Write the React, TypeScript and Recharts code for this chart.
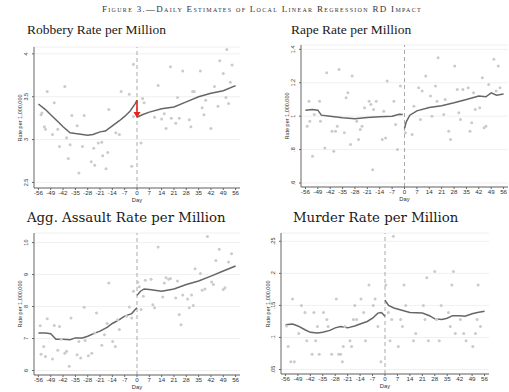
import { ComposedChart, Scatter, Line, XAxis, YAxis, CartesianGrid, ReferenceLine } from 'recharts';

const xTicks = [-56, -49, -42, -35, -28, -21, -14, -7, 0, 7, 14, 21, 28, 35, 42, 49, 56];

// [day, rate] pairs
const robberyDots: [number, number][] = [
  [-54.5, 3.29], [-54, 3.31], [-51, 3.56], [-52.6, 3.15], [-52, 3.12], [-47, 3.43], [-48, 3.06], [-45, 3.12],
  [-44, 2.92], [-41, 3.62], [-40, 3.02], [-39, 2.78], [-38, 2.94], [-37, 3.28], [-34, 3.16], [-33, 2.61],
  [-31, 2.92], [-30, 3.28], [-26, 2.74], [-24.6, 2.9], [-24, 2.7], [-22, 2.96], [-20, 2.97], [-19.5, 2.81],
  [-17.6, 2.66], [-16.6, 2.85], [-16, 3.35], [-12, 3.08], [-10, 3.06], [-9, 3.56], [-4.4, 3.53], [-3, 2.69],
  [-2, 3.88], [-2, 3.27], [2.3, 2.96], [3.2, 3.48], [4, 3.43], [10, 3.26], [12, 3.63], [14, 3.24],
  [15.5, 3.3], [16.5, 3.13], [19, 3.85], [19.5, 3.25], [22, 3.19], [23, 3.49], [24, 3.25], [26, 3.8],
  [29.7, 3.23], [30.6, 3.15], [31.6, 3.56], [32.5, 3.56], [36, 3.8], [37, 3.37], [38, 3.29], [39, 3.46],
  [42, 3.13], [44, 3.62], [46, 3.39], [47, 3.92], [49, 3.77], [50.5, 3.49], [51, 4.05], [52, 3.42],
  [53, 3.67], [54, 3.87],
];
const robberyPre: [number, number][] = [
  [-56, 3.415], [-52, 3.35], [-49, 3.29], [-45, 3.21], [-42, 3.15], [-38, 3.08], [-35, 3.07], [-31, 3.06],
  [-28, 3.05], [-25, 3.06], [-21, 3.09], [-18, 3.1], [-14, 3.16], [-10, 3.22], [-7, 3.27], [-4, 3.33],
  [-1, 3.42], [0, 3.46],
];
const robberyPost: [number, number][] = [
  [0, 3.26], [3, 3.29], [7, 3.32], [14, 3.36], [21, 3.38], [28, 3.44], [35, 3.5], [42, 3.54], [49, 3.57], [56, 3.63],
];
const robberyArrow: [number, number][] = [[0, 3.46], [0, 3.31]];

const rapeDots: [number, number][] = [
  [-55, 0.94], [-54, 1.09], [-53.5, 0.97], [-52, 0.76], [-51, 1.01], [-48, 1.09], [-47.5, 0.97], [-45, 0.81],
  [-44, 1.26], [-41, 0.91], [-40, 0.79], [-39, 0.91], [-38, 0.94], [-37, 1.28], [-34, 0.9], [-33, 1.11],
  [-32, 1.14], [-30.5, 0.83], [-29.6, 1.24], [-27, 0.97], [-26, 0.86], [-25, 0.92], [-24, 0.94], [-22.6, 1.05],
  [-20, 1.09], [-19, 1.07], [-18, 0.68], [-17.5, 1.04], [-16, 1.09], [-12.6, 0.86], [-11.7, 1.03], [-10.7, 0.87],
  [-9.8, 1.21], [-6, 1.09], [-5, 0.95], [-4, 0.8], [-2.3, 1.18], [0.6, 0.9], [4.3, 0.89], [5.3, 1.06],
  [8, 1.17], [9, 0.98], [10, 1.15], [12, 1.24], [14.7, 1.12], [15.5, 1.0], [17.5, 1.18], [18.4, 1.09],
  [19, 1.35], [22.2, 1.01], [23, 1.1], [25, 0.91], [26, 0.86], [28.4, 1.3], [29.8, 1.16], [30.7, 1.02],
  [31.6, 0.98], [33, 1.16], [36, 1.17], [37, 0.91], [38, 0.96], [39, 1.14], [40, 1.04], [42.5, 1.05],
  [44, 1.23], [45, 0.93], [46, 0.94], [47.6, 1.19], [50.5, 1.34], [51.8, 1.15], [53, 1.3], [54, 1.17],
];
const rapePre: [number, number][] = [
  [-56, 1.036], [-52, 1.04], [-49, 1.036], [-47, 1.006], [-42, 1.0], [-35, 0.99], [-28, 0.984], [-21, 0.992],
  [-14, 0.996], [-7, 1.0], [-3, 1.012], [-1, 1.01],
];
const rapePost: [number, number][] = [
  [0, 0.926], [1, 0.966], [3, 1.006], [7, 1.032], [14, 1.052], [21, 1.062], [28, 1.08], [35, 1.1], [42, 1.12],
  [46, 1.116], [49, 1.14], [52, 1.126], [56, 1.132],
];

const assaultDots: [number, number][] = [
  [-55, 7.4], [-54.5, 6.51], [-53, 6.75], [-52, 6.44], [-51, 7.62], [-48, 6.36], [-47, 7.41], [-45, 6.63],
  [-44, 7.38], [-43, 6.98], [-41, 6.54], [-40, 6.6], [-38.5, 6.13], [-37.5, 7.64], [-34, 6.49], [-33, 6.91],
  [-32, 6.39], [-30, 7.98], [-29.5, 6.94], [-27.6, 6.46], [-25.7, 6.54], [-24, 7.17], [-23, 7.8], [-20, 6.79],
  [-18.5, 7.12], [-17, 7.47], [-16, 8.74], [-13.8, 6.91], [-12.3, 6.75], [-11, 7.59], [-10, 7.28], [-6, 7.7],
  [-4.4, 7.99], [-3, 7.64], [-2, 8.48], [0.4, 8.76], [1.3, 8.62], [2.3, 7.91], [3.6, 8.32], [4.7, 8.82],
  [8, 8.85], [9, 8.06], [10, 7.96], [12, 9.86], [14.6, 8.3], [15.5, 8.74], [16.5, 8.9], [18, 8.85],
  [19, 8.88], [22, 8.27], [23, 8.8], [24, 7.75], [25, 7.43], [26, 8.36], [28.7, 8.24], [29.7, 7.96],
  [31, 8.36], [32, 8.03], [33, 9.18], [36, 9.03], [37, 8.51], [38.6, 8.55], [40, 10.19], [42.4, 8.77],
  [43.4, 8.69], [44.8, 9.44], [46.7, 9.79], [49, 8.53], [50, 8.59], [52, 9.39], [53.7, 9.65],
];
const assaultPre: [number, number][] = [
  [-56, 7.17], [-52, 7.17], [-49, 7.15], [-46, 6.98], [-42, 6.98], [-38, 6.96], [-35, 7.02], [-31, 7.02],
  [-28, 7.07], [-24, 7.17], [-21, 7.23], [-17, 7.35], [-14, 7.47], [-10, 7.59], [-7, 7.7], [-3, 7.78],
  [-1, 7.91], [0, 7.96],
];
const assaultPost: [number, number][] = [
  [0, 8.35], [2, 8.48], [4, 8.55], [7, 8.53], [14, 8.48], [21, 8.55], [28, 8.69], [35, 8.8], [42, 8.95],
  [49, 9.11], [56, 9.27],
];

const murderDots: [number, number][] = [
  [-55.4, 0.118], [-54.5, 0.086], [-53, 0.062], [-52, 0.16], [-51, 0.062], [-48.5, 0.106], [-47, 0.15],
  [-45, 0.139], [-44, 0.095], [-41, 0.074], [-40, 0.139], [-39, 0.095], [-38, 0.117], [-37, 0.074],
  [-34.6, 0.139], [-32.7, 0.128], [-32, 0.117], [-30, 0.074], [-27.4, 0.16], [-26, 0.074], [-25, 0.074],
  [-24, 0.062], [-23.5, 0.086], [-22.6, 0.117], [-19.7, 0.095], [-18.8, 0.086], [-17.8, 0.128], [-17, 0.15],
  [-16, 0.128], [-13.5, 0.16], [-12, 0.139], [-11, 0.095], [-9, 0.182], [-6.6, 0.15], [-5.6, 0.16],
  [-4, 0.117], [-2.3, 0.062], [0.5, 0.182], [1.9, 0.139], [2.8, 0.095], [3.8, 0.128], [4.7, 0.258],
  [7.5, 0.086], [8.8, 0.128], [9.8, 0.117], [10.7, 0.182], [11.7, 0.15], [16, 0.095], [17.3, 0.106],
  [21.6, 0.15], [22.5, 0.128], [23.5, 0.193], [24.4, 0.095], [28, 0.203], [29, 0.128], [30.5, 0.095],
  [31.6, 0.15], [35.7, 0.139], [36.7, 0.117], [37.6, 0.182], [38.5, 0.203], [39.5, 0.106], [42.4, 0.128],
  [44.3, 0.106], [45.6, 0.095], [49.4, 0.086], [50.9, 0.106], [51.8, 0.128], [52.4, 0.182], [53.7, 0.117],
];
const murderPre: [number, number][] = [
  [-56, 0.12], [-52, 0.121], [-49, 0.118], [-45, 0.112], [-42, 0.108], [-38, 0.107], [-35, 0.108], [-31, 0.111],
  [-28, 0.115], [-25, 0.117], [-21, 0.115], [-17, 0.118], [-14, 0.121], [-10, 0.125], [-7, 0.13], [-4, 0.138],
  [-2, 0.139], [0, 0.133],
];
const murderPost: [number, number][] = [
  [0, 0.158], [2, 0.15], [5, 0.146], [9, 0.143], [14, 0.139], [21, 0.138], [25, 0.134], [28, 0.129], [32, 0.128],
  [35, 0.13], [38, 0.134], [42, 0.134], [45, 0.133], [49, 0.137], [52, 0.139], [56, 0.141],
];

const rows = (pts: [number, number][]) => pts.map(([day, v]) => ({ day, v }));

const SANS = '"Liberation Sans", Arial, sans-serif';
const TIMES = '"Liberation Serif", "Times New Roman", serif';
const SCHOOLBOOK = '"DejaVu Serif", serif';

const Dot = (props: any) => <circle cx={props.cx} cy={props.cy} r={1.5} fill="#cbcbcb" />;

const ArrowHead = (props: any) =>
  props.index === 1 ? (
    <path key="head" d={`M${props.cx - 3.5},${props.cy - 1} L${props.cx + 3.5},${props.cy - 1} L${props.cx},${props.cy + 5} Z`} fill="#e5231b" />
  ) : (
    <g key={`n${props.index}`} />
  );

type PanelProps = {
  title: string;
  titleFont: string;
  titleSize: number;
  titleLeft: number;
  titleTop: number;
  left: number;
  top: number;
  width: number;
  height: number;
  margin: { top: number; right: number; bottom: number; left: number };
  yDomain: [number, number];
  yTicks: number[];
  yFmt: (v: number) => string;
  yLabelX: number;
  dots: [number, number][];
  pre: [number, number][];
  post: [number, number][];
  arrow?: [number, number][];
};

function Panel(p: PanelProps) {
  const YTick = (t: any) => {
    const x = t.x - 2.2;
    return (
      <text x={x} y={t.y} transform={`rotate(-90, ${x}, ${t.y})`} textAnchor="middle" fontSize={5.5} fill="#333" fontFamily={SANS}>
        {p.yFmt(t.payload.value)}
      </text>
    );
  };
  const plotTop = p.top + p.margin.top;
  const plotH = p.height - p.margin.top - p.margin.bottom - 13;
  return (
    <>
      <div style={{ position: 'absolute', left: p.titleLeft, top: p.titleTop, fontFamily: p.titleFont, fontSize: p.titleSize, lineHeight: 1, whiteSpace: 'nowrap', color: '#1a1a1a' }}>
        {p.title}
      </div>
      <div style={{ position: 'absolute', left: p.yLabelX, top: plotTop + plotH / 2, transform: 'translate(-50%, -50%) rotate(-90deg)', fontFamily: SANS, fontSize: 5.5, whiteSpace: 'nowrap', color: '#333' }}>
        Rate per 1,000,000
      </div>
      <div style={{ position: 'absolute', left: p.left, top: p.top }}>
        <ComposedChart width={p.width} height={p.height} margin={p.margin}>
          <CartesianGrid vertical={false} horizontal stroke="#ececec" strokeWidth={0.8} />
          <XAxis
            type="number"
            dataKey="day"
            domain={[-58.5, 58.5]}
            ticks={xTicks}
            interval={0}
            height={13}
            tickSize={2}
            tickMargin={0.5}
            stroke="#666"
            tick={{ fontSize: 6.2, fill: '#333', fontFamily: SANS }}
            label={{ value: 'Day', position: 'insideBottom', offset: -1, fontSize: 5.8, fill: '#333', fontFamily: SANS }}
          />
          <YAxis
            type="number"
            dataKey="v"
            domain={p.yDomain}
            ticks={p.yTicks}
            interval={0}
            allowDataOverflow
            width={26}
            tickSize={2}
            tickMargin={2}
            stroke="#666"
            tick={<YTick />}
          />
          <ReferenceLine x={0} stroke="#a0a0a0" strokeDasharray="4 3" strokeWidth={0.9} />
          <Scatter data={rows(p.dots)} dataKey="v" shape={<Dot />} isAnimationActive={false} />
          <Line data={rows(p.pre)} dataKey="v" type="linear" stroke="#666" strokeWidth={1.5} dot={false} isAnimationActive={false} />
          <Line data={rows(p.post)} dataKey="v" type="linear" stroke="#666" strokeWidth={1.5} dot={false} isAnimationActive={false} />
          {p.arrow && (
            <Line data={rows(p.arrow)} dataKey="v" type="linear" stroke="#e5231b" strokeWidth={1.6} dot={ArrowHead} isAnimationActive={false} />
          )}
        </ComposedChart>
      </div>
    </>
  );
}

const fmtDec = (v: number) => String(v).replace(/^0\./, '.');

export default function App() {
  return (
    <div style={{ position: 'absolute', left: 0, top: 0, width: 509, height: 392, background: '#fff', overflow: 'hidden' }}>
      <div style={{ position: 'absolute', left: 0, width: 524, top: 4, textAlign: 'center', fontFamily: TIMES, fontSize: 9, letterSpacing: 1.3, fontVariant: 'small-caps', color: '#333', whiteSpace: 'nowrap' }}>
        Figure 3.—Daily Estimates of Local Linear Regression RD Impact
      </div>
      <Panel
        title="Robbery Rate per Million"
        titleFont={TIMES}
        titleSize={13.5}
        titleLeft={27}
        titleTop={23}
        left={0}
        top={40}
        width={250}
        height={163}
        margin={{ top: 7, right: 10, bottom: 2, left: 8 }}
        yDomain={[2.435, 4.08]}
        yTicks={[2.5, 3, 3.5, 4]}
        yFmt={(v) => String(v)}
        yLabelX={20}
        dots={robberyDots}
        pre={robberyPre}
        post={robberyPost}
        arrow={robberyArrow}
      />
      <Panel
        title="Rape Rate per Million"
        titleFont={TIMES}
        titleSize={13.5}
        titleLeft={291}
        titleTop={23}
        left={262}
        top={40}
        width={247}
        height={162}
        margin={{ top: 5, right: 1, bottom: 2, left: 13 }}
        yDomain={[0.576, 1.426]}
        yTicks={[0.6, 0.8, 1, 1.2, 1.4]}
        yFmt={fmtDec}
        yLabelX={287}
        dots={rapeDots}
        pre={rapePre}
        post={rapePost}
      />
      <Panel
        title="Agg. Assault Rate per Million"
        titleFont={SCHOOLBOOK}
        titleSize={13.3}
        titleLeft={27}
        titleTop={211}
        left={0}
        top={228}
        width={250}
        height={162}
        margin={{ top: 5, right: 10, bottom: 2, left: 8 }}
        yDomain={[5.86, 10.3]}
        yTicks={[6, 7, 8, 9, 10]}
        yFmt={(v) => String(v)}
        yLabelX={20}
        dots={assaultDots}
        pre={assaultPre}
        post={assaultPost}
      />
      <Panel
        title="Murder Rate per Million"
        titleFont={SCHOOLBOOK}
        titleSize={13.3}
        titleLeft={293}
        titleTop={211}
        left={250}
        top={228}
        width={250}
        height={161}
        margin={{ top: 5, right: 11, bottom: 2, left: 5 }}
        yDomain={[0.043, 0.263]}
        yTicks={[0.05, 0.1, 0.15, 0.2, 0.25]}
        yFmt={fmtDec}
        yLabelX={268}
        dots={murderDots}
        pre={murderPre}
        post={murderPost}
      />
    </div>
  );
}
